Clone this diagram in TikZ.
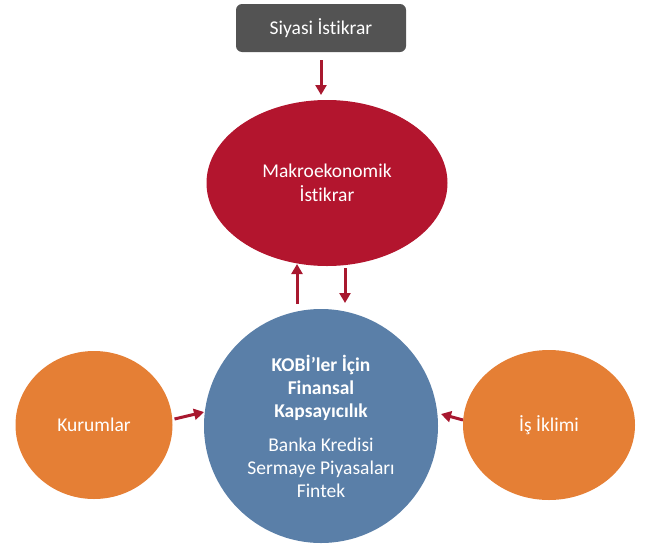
\documentclass[tikz,border=0pt]{standalone}
\usepackage{fontspec}
\setmainfont{Carlito}[Ligatures={NoCommon,NoDiscretionary,NoRare}]
\usetikzlibrary{shapes.geometric,arrows.meta}
\definecolor{boxgray}{HTML}{535353}
\definecolor{makrored}{HTML}{B3152E}
\definecolor{kobiblue}{HTML}{5A7FA8}
\definecolor{sideorange}{HTML}{E57F35}
\definecolor{arrowred}{HTML}{A8182F}
\tikzset{
  bubble/.style = {ellipse, inner sep=0pt, outer sep=0pt, text=white,
                   align=center, font=\fontsize{19.5}{24}\selectfont},
  topbox/.style = {rectangle, rounded corners=6pt, fill=boxgray, text=white,
                   minimum width=170pt, minimum height=48pt,
                   font=\fontsize{19.5}{24}\selectfont},
  arr/.style    = {draw=arrowred, line width=3pt,
                   -{Triangle[length=10pt,width=11pt]}}
}
\begin{document}
\begin{tikzpicture}[x=1pt,y=-1pt]
	\useasboundingbox (0,0) rectangle (645,549);

	% Nodes
	\node[topbox] (siyasi) at (321,28) {Siyasi İstikrar};
	\node[bubble, fill=makrored, minimum width=241pt, minimum height=166pt] (makro) at (327,183)
		{Makroekonomik\\İstikrar};
	\node[bubble, fill=kobiblue, minimum width=234pt, minimum height=234pt] (kobi) at (321,426)
		{\textbf{KOBİ’ler İçin}\\[-1pt]\textbf{Finansal}\\[-1pt]\textbf{Kapsayıcılık}\\[10pt]
		 Banka Kredisi\\[-1pt]Sermaye Piyasaları\\[-1pt]Fintek};
	\node[bubble, fill=sideorange, minimum width=157pt, minimum height=148pt] (kurumlar) at (94,425) {Kurumlar};
	\node[bubble, fill=sideorange, minimum width=172pt, minimum height=150pt] (isiklimi) at (549,425) {İş İklimi};

	% Arrows
	\draw[arr] ([yshift=-8pt]siyasi.south) -- ([yshift=5pt]siyasi.south |- makro.north);
	\draw[arr] ([xshift=-24pt,yshift=5pt]kobi.north) -- ([xshift=-30pt,yshift=2pt]makro.south);
	\draw[arr] ([xshift=18pt,yshift=-2pt]makro.south) -- ([xshift=24pt,yshift=6pt]kobi.north);
	\draw[arr] ([xshift=2pt,yshift=6pt]kurumlar.east) -- ([yshift=14pt]kobi.west);
	\draw[arr] ([yshift=5pt]isiklimi.west) -- ([xshift=3pt,yshift=12pt]kobi.east);
\end{tikzpicture}
\end{document}
